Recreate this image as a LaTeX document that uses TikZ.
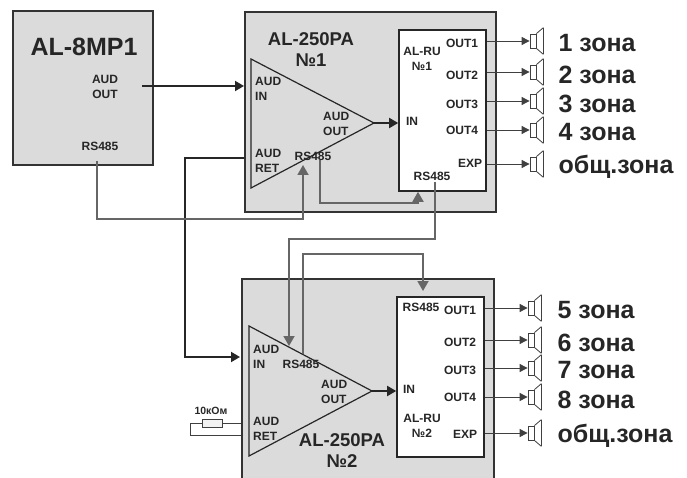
\documentclass[tikz,border=0pt]{standalone}
\usepackage{fontspec}
\setmainfont{Liberation Sans}
\usetikzlibrary{arrows.meta,positioning}

\begin{document}
\begin{tikzpicture}[x=1pt,y=-1pt,node distance=20pt,>={Triangle[length=9pt,width=10pt]},
unit/.style={draw=black!80,fill=black!14,line width=2pt,inner sep=0pt},
module/.style={draw=black!85,fill=white,line width=1.6pt,inner sep=0pt},
amp/.style={draw=black!85,line width=1.2pt,line join=miter},
txt/.style={font=\bfseries\fontsize{12}{14.6}\selectfont,text=black!85,align=left,inner sep=0pt},
title/.style={font=\bfseries\fontsize{18.5}{21}\selectfont,text=black!85,align=center,inner sep=0pt},
zone/.style={font=\bfseries\fontsize{25}{27}\selectfont,text=black!85,inner sep=0pt,yshift=-2.5pt},
audio/.style={->,line width=1.8pt,draw=black!85},
bus/.style={line width=1.8pt,draw=black!60,>={Triangle[length=10pt,width=11pt]}},
outp/.style={->,line width=0.9pt,draw=black!75,>={Triangle[length=8pt,width=8pt]}},
spk/.style={draw=black!75,line width=0.8pt,inner sep=0pt,minimum width=6pt,minimum height=14pt,
  append after command={(\tikzlastnode.north east) edge[draw=black!75,line width=0.8pt] ++(7,-6)
  (\tikzlastnode.south east) edge[draw=black!75,line width=0.8pt] ++(7,6)
  ([shift={(7,-6)}]\tikzlastnode.north east) edge[draw=black!75,line width=0.8pt] ([shift={(7,6)}]\tikzlastnode.south east)}}
]
\useasboundingbox (0,0) rectangle (687,478);

\node[unit,minimum width=140,minimum height=154] (mp) at (83,88) {};
\node[unit,minimum width=251,minimum height=200] (box1) at (370.5,112) {};
\node[unit,minimum width=252,minimum height=202] (box2) at (368,380) {};
\node[module,minimum width=87,minimum height=161] (ru1) at (442.5,110.5) {};
\node[module,minimum width=87,minimum height=160] (ru2) at (440.5,377) {};

% amplifiers
\coordinate (amp1top) at (251,59);
\coordinate (amp1bot) at (251,188);
\coordinate (amp1tip) at (374,123);
\coordinate (amp2top) at (249,326);
\coordinate (amp2bot) at (249,456);
\coordinate (amp2tip) at (372,391);
\draw[amp] (amp1top) -- (amp1tip) -- (amp1bot) -- cycle;
\draw[amp] (amp2top) -- (amp2tip) -- (amp2bot) -- cycle;

% texts of AL-8MP1
\node[font=\bfseries\fontsize{25}{28}\selectfont,text=black!85,inner sep=0pt] (mpname) at (84,47) {AL-8MP1};
\node[txt,align=center] (mpaud) at (105,87) {AUD\\OUT};
\node[txt] (mprs) at (100,146) {RS485};

% texts of amplifier 1
\node[title] (amp1name) at (311,50) {AL-250PA\\№1};
\node[txt,anchor=west] (amp1in) at (255,89) {AUD\\IN};
\node[txt,anchor=west] (amp1ret) at (255,161) {AUD\\RET};
\node[txt,anchor=west] (amp1out) at (323,124) {AUD\\OUT};
\node[txt] (amp1rs) at (313,156) {RS485};

% texts of amplifier 2
\node[title] (amp2name) at (342,451) {AL-250PA\\№2};
\node[txt,anchor=west] (amp2in) at (253,357) {AUD\\IN};
\node[txt,anchor=west] (amp2ret) at (253,429) {AUD\\RET};
\node[txt,anchor=west] (amp2out) at (321,392) {AUD\\OUT};
\node[txt] (amp2rs) at (301,364) {RS485};

% texts of AL-RU 1
\node[txt,align=center] (ru1name) at (422,59) {AL-RU\\№1};
\node[txt] (ru1out1) at (462,43) {OUT1};
\node[txt] (ru1out2) at (462,75) {OUT2};
\node[txt] (ru1out3) at (462,104) {OUT3};
\node[txt] (ru1out4) at (462,130) {OUT4};
\node[txt] (ru1exp) at (470,163) {EXP};
\node[txt] (ru1rs) at (432,176) {RS485};
\node[txt] (ru1in) at (412,121) {IN};

% texts of AL-RU 2
\node[txt,align=center] (ru2name) at (422,426) {AL-RU\\№2};
\node[txt] (ru2out1) at (460,310) {OUT1};
\node[txt] (ru2out2) at (460,342) {OUT2};
\node[txt] (ru2out3) at (460,370) {OUT3};
\node[txt] (ru2out4) at (460,397) {OUT4};
\node[txt] (ru2exp) at (465,434) {EXP};
\node[txt] (ru2rs) at (421,307) {RS485};
\node[txt] (ru2in) at (409,389) {IN};

% speakers
\node[spk] (s1) at (533,41) {};
\node[spk] (s2) at (533,72) {};
\node[spk] (s3) at (533,101) {};
\node[spk] (s4) at (533,130) {};
\node[spk] (s5) at (533,164) {};
\node[spk] (s6) at (531,308) {};
\node[spk] (s7) at (531,340) {};
\node[spk] (s8) at (531,368) {};
\node[spk] (s9) at (531,397) {};
\node[spk] (s10) at (531,433) {};

\node[zone,anchor=west] (z1) [right=22pt of s1] {1 зона};
\node[zone,anchor=west] (z2) [right=22pt of s2] {2 зона};
\node[zone,anchor=west] (z3) [right=22pt of s3] {3 зона};
\node[zone,anchor=west] (z4) [right=22pt of s4] {4 зона};
\node[zone,anchor=west] (z5) [right=22pt of s5] {общ.зона};
\node[zone,anchor=west] (z6) [right=23pt of s6] {5 зона};
\node[zone,anchor=west] (z7) [right=23pt of s7] {6 зона};
\node[zone,anchor=west] (z8) [right=23pt of s8] {7 зона};
\node[zone,anchor=west] (z9) [right=23pt of s9] {8 зона};
\node[zone,anchor=west] (z10) [right=23pt of s10] {общ.зона};

% wire ends
\node[coordinate] (P1) at (142,86) {};
\node[coordinate] (P2) at (97,161) {};
\node[coordinate] (P3) at (303,165) {};
\node[coordinate] (P4) at (185,158) {};
\node[coordinate] (P5) at (240,357) {};
\node[coordinate] (P6) at (320,160) {};
\node[coordinate] (P7) at (435,182) {};
\node[coordinate] (P8) at (289,346) {};
\node[coordinate] (P9) at (303,354) {};
\node[coordinate] (P10) at (423,291) {};

\draw[audio] (P1) -- (P1 -| box1.west);
\draw[audio] (P4 -| box1.west) -- (P4) |- (P5);
\draw[audio] (amp1tip) -- (amp1tip -| ru1.west);
\draw[audio] (amp2tip) -- (amp2tip -| ru2.west);

\draw[bus,->] (P2) |- (303,219) -- (P3);
\draw[bus,->] (P6) |- (418,203) -- (ru1.south -| 418,0);
\draw[bus,->] (P7) |- (289,239) -- (P8);
\draw[bus,->] (P9) |- (423,254) -- (P10);

\draw[outp] (ru1.east |- s1) -- (s1.west);
\draw[outp] (ru1.east |- s2) -- (s2.west);
\draw[outp] (ru1.east |- s3) -- (s3.west);
\draw[outp] (ru1.east |- s4) -- (s4.west);
\draw[outp] (ru1.east |- s5) -- (s5.west);
\draw[outp] (ru2.east |- s6) -- (s6.west);
\draw[outp] (ru2.east |- s7) -- (s7.west);
\draw[outp] (ru2.east |- s8) -- (s8.west);
\draw[outp] (ru2.east |- s9) -- (s9.west);
\draw[outp] (ru2.east |- s10) -- (s10.west);

% terminating resistor
\node[draw=black!75,fill=black!5,line width=0.8pt,minimum width=20pt,minimum height=8pt,inner sep=0pt] (res) at (212,423) {};
\node[font=\bfseries\fontsize{10.5}{12}\selectfont,text=black!85,inner sep=0pt] (resval) at (211,411) {10кОм};
\node[coordinate] (P11) at (190,435) {};
\draw[draw=black!75,line width=0.8pt] (res.east) -- (res.east -| box2.west);
\draw[draw=black!75,line width=0.8pt] (res.west) -- (res.west -| P11) -- (P11) -- (P11 -| box2.west);
\end{tikzpicture}
\end{document}
